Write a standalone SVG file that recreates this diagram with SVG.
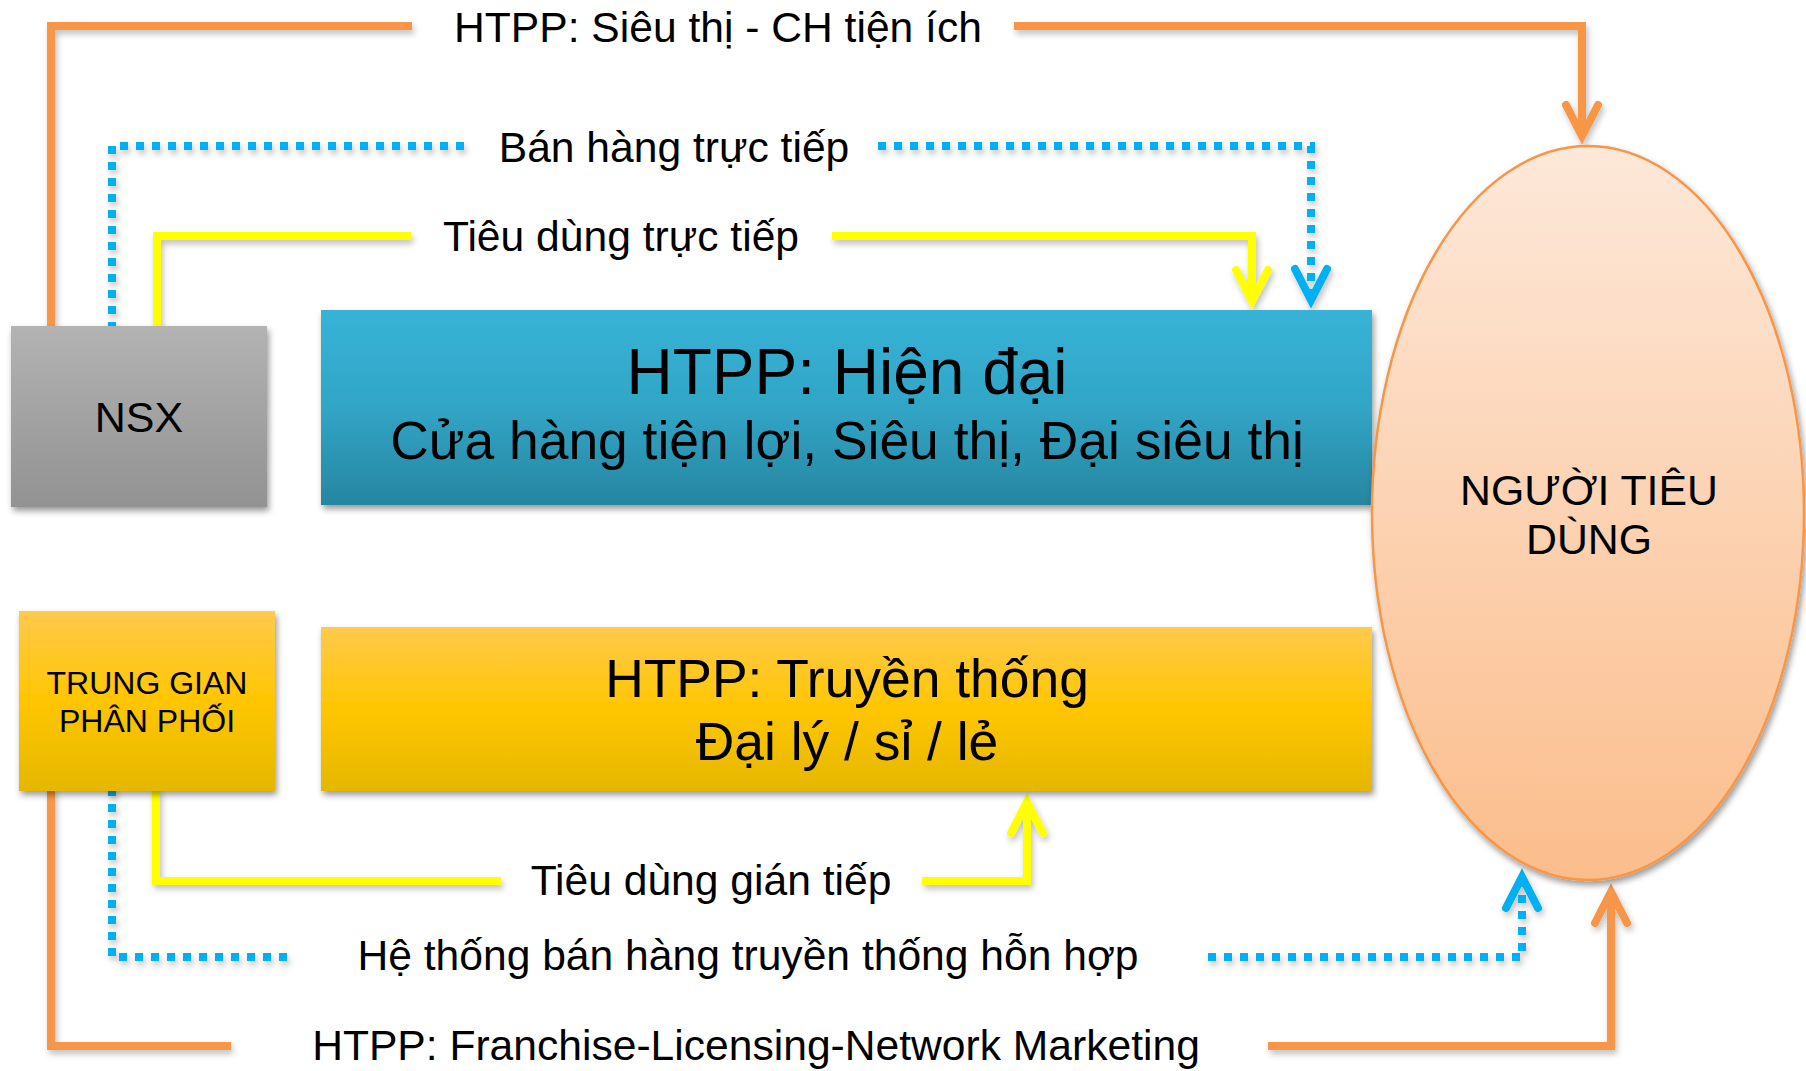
<svg xmlns="http://www.w3.org/2000/svg" width="1806" height="1071" viewBox="0 0 1806 1071">
  <defs>
    <linearGradient id="gGray" x1="0" y1="0" x2="0" y2="1">
      <stop offset="0" stop-color="#b3b3b3"/>
      <stop offset="1" stop-color="#929292"/>
    </linearGradient>
    <linearGradient id="gBlue" x1="0" y1="0" x2="0" y2="1">
      <stop offset="0" stop-color="#37b3d7"/>
      <stop offset="0.5" stop-color="#31a5c6"/>
      <stop offset="1" stop-color="#2786a1"/>
    </linearGradient>
    <linearGradient id="gGold" x1="0" y1="0" x2="0" y2="1">
      <stop offset="0" stop-color="#ffc94c"/>
      <stop offset="0.5" stop-color="#ffc600"/>
      <stop offset="1" stop-color="#e5b700"/>
    </linearGradient>
    <linearGradient id="gPeach" x1="0" y1="0" x2="0" y2="1">
      <stop offset="0" stop-color="#fde8d9"/>
      <stop offset="1" stop-color="#fbbd8b"/>
    </linearGradient>
    <filter id="shadow" x="-10%" y="-10%" width="120%" height="130%">
      <feDropShadow dx="2" dy="4" stdDeviation="3" flood-color="#000" flood-opacity="0.4"/>
    </filter>
    <filter id="lineShadow" x="-5%" y="-5%" width="110%" height="115%">
      <feDropShadow dx="2" dy="4" stdDeviation="3" flood-color="#000" flood-opacity="0.25"/>
    </filter>
    <!-- open chevron arrowheads, one per connector colour -->
    <marker id="arrOrange" markerUnits="userSpaceOnUse" orient="auto" refX="0" refY="0" markerWidth="60" markerHeight="60" viewBox="-45 -25 60 50" overflow="visible">
      <path d="M -31,-16 L 0,0 L -31,16" fill="none" stroke="#f79646" stroke-width="8" stroke-linecap="round" stroke-linejoin="miter"/>
    </marker>
    <marker id="arrBlue" markerUnits="userSpaceOnUse" orient="auto" refX="0" refY="0" markerWidth="60" markerHeight="60" viewBox="-45 -25 60 50" overflow="visible">
      <path d="M -31,-16 L 0,0 L -31,16" fill="none" stroke="#00b0f0" stroke-width="8" stroke-linecap="round" stroke-linejoin="miter"/>
    </marker>
    <marker id="arrYellow" markerUnits="userSpaceOnUse" orient="auto" refX="0" refY="0" markerWidth="60" markerHeight="60" viewBox="-45 -25 60 50" overflow="visible">
      <path d="M -31,-16 L 0,0 L -31,16" fill="none" stroke="#ffff00" stroke-width="8" stroke-linecap="round" stroke-linejoin="miter"/>
    </marker>
  </defs>
  <style>
    text { font-family: "Liberation Sans", Arial, "DejaVu Sans", sans-serif; fill: #000; text-anchor: middle; }
    .lbl { font-size: 42.6px; }
    .conn { fill: none; stroke-width: 8; stroke-linejoin: miter; }
    .orange { stroke: #f79646; }
    .yellow { stroke: #ffff00; }
    .blue { stroke: #00b0f0; stroke-dasharray: 8 8; }
  </style>

  <rect x="0" y="0" width="1806" height="1071" fill="#ffffff"/>

  <!-- connectors -->
  <g id="connectors" filter="url(#lineShadow)">
    <!-- NSX -> consumer (supermarket / convenience store) -->
    <polyline class="conn orange" points="51,330 51,26 412,26"/>
    <polyline class="conn orange" points="1014,26 1582,26 1582,136" marker-end="url(#arrOrange)"/>
    <!-- direct sales -->
    <polyline class="conn blue" points="112,330 112,146 472,146"/>
    <polyline class="conn blue" points="878,146 1311,146 1311,300" marker-end="url(#arrBlue)"/>
    <!-- direct consumption -->
    <polyline class="conn yellow" points="157,330 157,236 411,236"/>
    <polyline class="conn yellow" points="832,236 1252,236 1252,301" marker-end="url(#arrYellow)"/>
    <!-- indirect consumption -->
    <polyline class="conn yellow" points="156,788 156,881 501,881"/>
    <polyline class="conn yellow" points="922,881 1027,881 1027,802" marker-end="url(#arrYellow)"/>
    <!-- mixed traditional sales -->
    <polyline class="conn blue" points="112,788 112,957 290,957"/>
    <polyline class="conn blue" points="1208,957 1522,957 1522,877" marker-end="url(#arrBlue)"/>
    <!-- franchise / licensing / network marketing -->
    <polyline class="conn orange" points="51,788 51,1046 231,1046"/>
    <polyline class="conn orange" points="1268,1046 1611,1046 1611,892" marker-end="url(#arrOrange)"/>
  </g>

  <!-- connector labels -->
  <g id="labels">
    <text class="lbl" x="718" y="42">HTPP: Siêu thị - CH tiện ích</text>
    <text class="lbl" x="674" y="162">Bán hàng trực tiếp</text>
    <text class="lbl" x="621" y="251">Tiêu dùng trực tiếp</text>
    <text class="lbl" x="711" y="895">Tiêu dùng gián tiếp</text>
    <text class="lbl" x="748" y="970">Hệ thống bán hàng truyền thống hỗn hợp</text>
    <text class="lbl" x="756" y="1060">HTPP: Franchise-Licensing-Network Marketing</text>
  </g>

  <g id="nsx">
    <rect x="11" y="326" width="256" height="181" fill="url(#gGray)" filter="url(#shadow)"/>
    <text x="139" y="432" font-size="43">NSX</text>
  </g>

  <g id="htpp-hien-dai">
    <rect x="321" y="310" width="1051" height="195" fill="url(#gBlue)" filter="url(#shadow)"/>
    <text x="847" y="394" font-size="64">HTPP: Hiện đại</text>
    <text x="847" y="459" font-size="53.4">Cửa hàng tiện lợi, Siêu thị, Đại siêu thị</text>
  </g>

  <g id="trung-gian">
    <rect x="19" y="611" width="256" height="180" fill="url(#gGold)" filter="url(#shadow)"/>
    <text x="147" y="694" font-size="32">TRUNG GIAN</text>
    <text x="147" y="732" font-size="32">PHÂN PHỐI</text>
  </g>

  <g id="htpp-truyen-thong">
    <rect x="321" y="627" width="1051" height="164" fill="url(#gGold)" filter="url(#shadow)"/>
    <text x="847" y="697" font-size="53.4">HTPP: Truyền thống</text>
    <text x="847" y="760" font-size="53.4">Đại lý / sỉ / lẻ</text>
  </g>

  <g id="nguoi-tieu-dung">
    <ellipse cx="1588" cy="513" rx="216" ry="367" fill="url(#gPeach)" stroke="#f79646" stroke-width="2.5" filter="url(#shadow)"/>
    <text x="1589" y="505" font-size="42.8">NGƯỜI TIÊU</text>
    <text x="1589" y="554" font-size="42.8">DÙNG</text>
  </g>
</svg>
